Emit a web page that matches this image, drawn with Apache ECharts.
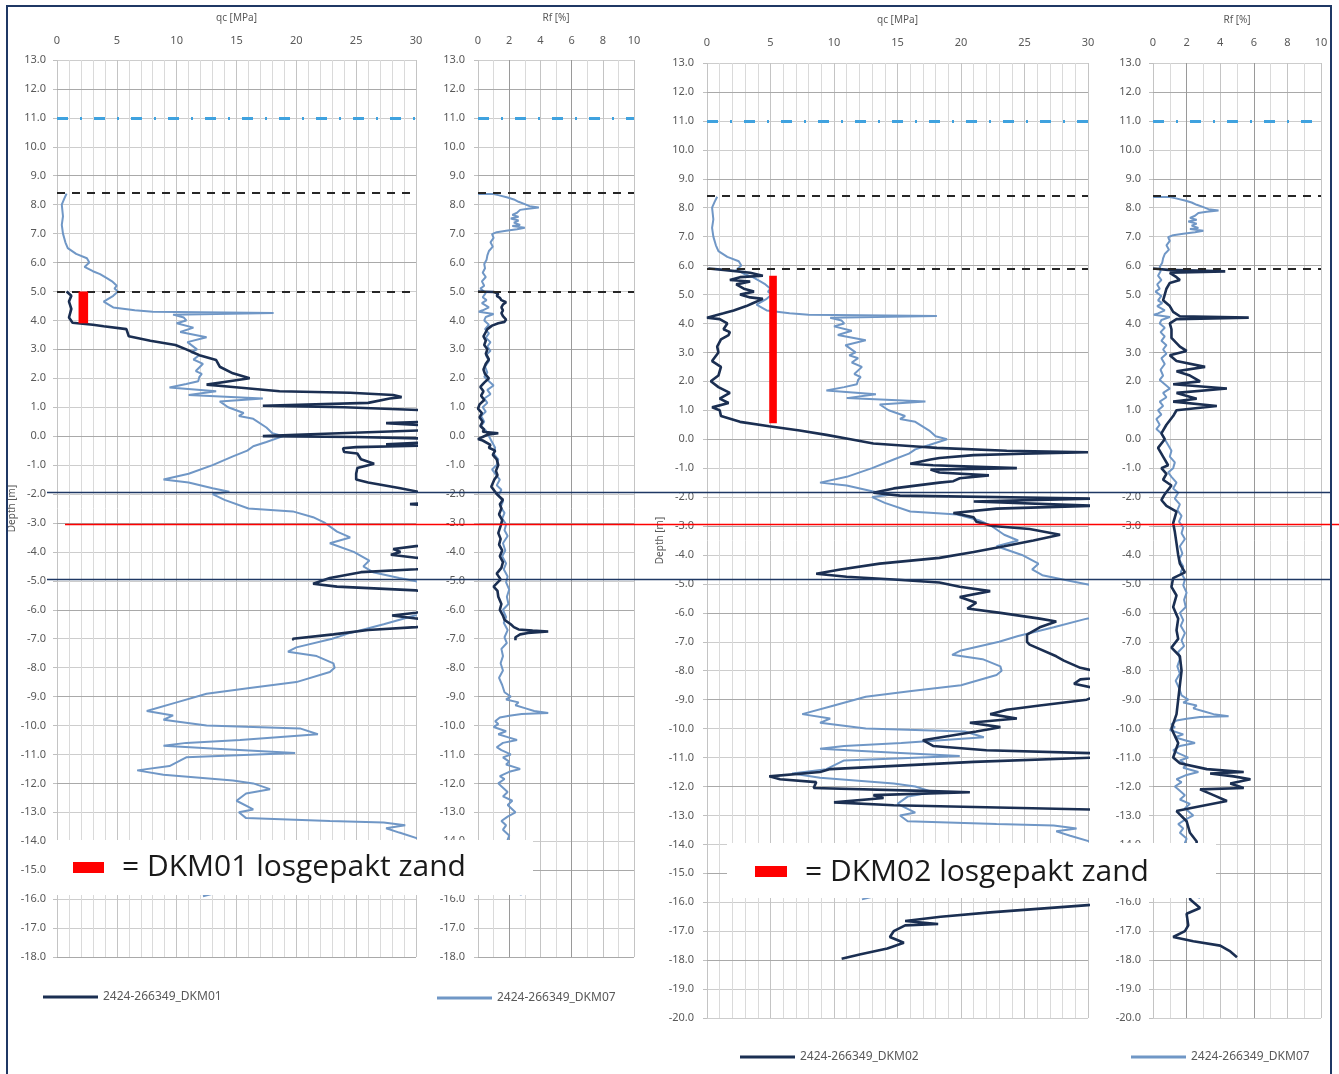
<!DOCTYPE html>
<html><head><meta charset="utf-8">
<script src="https://cdn.jsdelivr.net/npm/echarts/dist/echarts.min.js"></script>
<style>html,body{margin:0;padding:0;background:#fff}#c{width:1339px;height:1074px}</style>
</head><body><div id="c"></div>
<script>
// ---------- DATA ----------
const qcTicks = [0, 5, 10, 15, 20, 25, 30];
const rfTicks = [0, 2, 4, 6, 8, 10];
const nameDKM01 = '2424-266349_DKM01';
const nameDKM02 = '2424-266349_DKM02';
const nameDKM07 = '2424-266349_DKM07';

// [qc MPa, depth m]
const qcDKM07 = [[0.8,8.38],[0.6,8.2],[0.4,8.0],[0.5,7.6],[0.4,7.3],[0.5,7.0],[0.7,6.7],[0.9,6.5],[1.6,6.3],[2.5,6.15],[2.7,6.0],[2.3,5.85],[3.0,5.7],[3.6,5.6],[4.2,5.45],[4.6,5.35],[5.0,5.2],[4.8,5.1],[5.1,5.0],[4.7,4.85],[3.9,4.65],[4.7,4.45],[6.5,4.35],[8.0,4.3],[18.1,4.26],[9.7,4.2],[10.6,4.1],[10.8,4.0],[10.0,3.9],[11.4,3.75],[10.3,3.6],[12.5,3.42],[10.9,3.25],[11.7,3.0],[11.2,2.9],[11.9,2.8],[11.4,2.65],[12.2,2.5],[11.6,2.25],[12.1,2.15],[11.9,2.05],[11.8,1.9],[10.8,1.8],[9.4,1.68],[13.3,1.55],[11.0,1.42],[17.2,1.3],[13.6,1.2],[14.3,1.0],[15.6,0.8],[15.2,0.7],[16.4,0.6],[17.5,0.3],[18.0,0.1],[18.9,0.0],[17.5,-0.2],[16.4,-0.35],[15.9,-0.5],[14.7,-0.7],[13.0,-1.0],[11.0,-1.3],[8.9,-1.5],[11.0,-1.6],[13.0,-1.8],[14.4,-1.92],[13.0,-2.0],[14.0,-2.2],[16.0,-2.5],[19.7,-2.6],[21.4,-2.8],[22.4,-3.0],[23.4,-3.3],[24.5,-3.5],[22.8,-3.7],[24.8,-4.0],[26.1,-4.3],[25.6,-4.5],[26.4,-4.7],[28.6,-4.9],[29.8,-5.0],[32,-5.2],[35,-5.6],[33,-6.0],[29.9,-6.2],[27.3,-6.5],[24.5,-6.8],[23.0,-7.0],[20.0,-7.3],[19.3,-7.45],[21.7,-7.6],[23.1,-7.85],[23.2,-8.0],[22.8,-8.15],[20.0,-8.5],[16.1,-8.7],[12.5,-8.9],[10.0,-9.2],[7.5,-9.5],[9.7,-9.65],[8.9,-9.8],[12.5,-10.0],[20.3,-10.1],[21.8,-10.3],[15.3,-10.5],[10.8,-10.6],[8.9,-10.7],[13.3,-10.8],[19.9,-10.95],[10.8,-11.1],[9.4,-11.4],[6.7,-11.55],[8.9,-11.7],[14.7,-11.9],[16.4,-12.0],[17.8,-12.2],[15.8,-12.35],[15.0,-12.6],[16.4,-12.9],[15.2,-13.0],[15.8,-13.2],[22.8,-13.3],[27.3,-13.35],[29.1,-13.45],[27.5,-13.55],[28.6,-13.7],[30.5,-13.95],[33,-14.3],[25,-15.0],[15,-15.6],[12.2,-15.9]];

const qcDKM01 = [[0.8,5.0],[1.2,4.85],[1.0,4.65],[1.2,4.4],[1.0,4.1],[1.3,3.92],[3.0,3.85],[3.9,3.8],[5.8,3.7],[6.0,3.45],[7.8,3.3],[9.9,3.15],[10.8,3.0],[11.9,2.8],[13.3,2.63],[13.6,2.4],[14.7,2.17],[16.1,2.0],[14.4,1.9],[12.5,1.78],[14.7,1.7],[18.6,1.55],[24.5,1.5],[28.1,1.42],[28.8,1.35],[27.8,1.3],[26,1.15],[17.2,1.05],[24,1.0],[30.5,0.9],[35,0.7],[31,0.5],[27.5,0.45],[30.5,0.38],[35,0.3],[30.5,0.2],[20,0.05],[17.2,0.0],[25,-0.03],[30.5,-0.08],[35,-0.15],[30.5,-0.22],[27.5,-0.28],[30.5,-0.33],[25,-0.38],[23.9,-0.42],[24.0,-0.55],[25.1,-0.6],[25.4,-0.8],[26.5,-0.95],[25.1,-1.1],[25.0,-1.3],[25.0,-1.5],[26.0,-1.6],[28.7,-1.8],[30.5,-1.95],[35,-2.1],[31,-2.3],[29.5,-2.35],[31,-2.4],[35,-3.0],[33,-3.7],[30.0,-3.8],[28.1,-3.9],[28.7,-4.0],[27.9,-4.1],[30.0,-4.2],[35,-4.4],[30.0,-4.6],[25.4,-4.7],[22.8,-4.9],[21.4,-5.1],[23.4,-5.2],[30.0,-5.33],[35,-5.7],[30.0,-6.1],[28.0,-6.2],[30.0,-6.3],[35,-6.45],[30.0,-6.6],[26.0,-6.7],[23.1,-6.85],[19.7,-7.0],[19.8,-7.05]];

const qcDKM02 = [[0.1,5.9],[1.3,5.85],[3.4,5.75],[4.4,5.65],[2.6,5.6],[1.8,5.5],[3.4,5.45],[2.3,5.35],[2.9,5.2],[3.7,5.1],[2.6,5.0],[3.4,4.9],[4.4,4.85],[3.6,4.7],[3.1,4.6],[2.1,4.45],[1.3,4.35],[0.0,4.2],[1.0,4.15],[1.6,4.0],[1.3,3.8],[1.8,3.7],[1.7,3.6],[1.1,3.45],[0.8,3.2],[0.9,3.0],[0.4,2.7],[1.1,2.5],[0.9,2.2],[0.3,2.0],[0.9,1.8],[1.8,1.6],[1.0,1.4],[1.7,1.25],[0.4,1.1],[1.0,1.0],[1.1,0.8],[2.6,0.6],[4.9,0.45],[7.3,0.3],[9.4,0.15],[11.3,0.0],[13.1,-0.15],[16.5,-0.25],[18.1,-0.3],[23.6,-0.4],[30.0,-0.45],[24.9,-0.5],[21.0,-0.55],[18.3,-0.65],[17.6,-0.7],[16.0,-0.85],[17.8,-0.9],[24.4,-1.0],[17.6,-1.05],[18.3,-1.15],[22.2,-1.25],[19.9,-1.35],[19.4,-1.45],[18.3,-1.5],[14.7,-1.7],[13.1,-1.85],[15.2,-1.95],[30.5,-2.05],[21.0,-2.15],[30.5,-2.3],[22.8,-2.4],[19.4,-2.55],[21.0,-2.7],[21.2,-2.85],[22.5,-3.0],[25.4,-3.1],[27.8,-3.3],[25.7,-3.5],[23.4,-3.7],[21.0,-3.9],[18.3,-4.1],[13.6,-4.3],[10.5,-4.5],[8.6,-4.65],[11.0,-4.75],[14.7,-4.85],[18.3,-4.95],[19.9,-5.1],[22.3,-5.25],[19.9,-5.45],[21.2,-5.65],[20.5,-5.85],[23.1,-6.0],[26.2,-6.2],[27.5,-6.3],[26.2,-6.5],[25.2,-6.75],[25.2,-7.0],[25.4,-7.1],[27.5,-7.5],[28.1,-7.65],[29.4,-7.9],[30.5,-8.0],[33,-8.15],[29.4,-8.3],[28.9,-8.45],[30.5,-8.6],[31,-8.8],[29.9,-9.0],[26.2,-9.2],[23.6,-9.35],[22.3,-9.5],[24.4,-9.65],[20.7,-9.8],[23.1,-9.95],[21.2,-10.1],[17.0,-10.4],[17.8,-10.6],[22.0,-10.75],[30.5,-10.85],[35,-10.95],[30.5,-11.0],[21.0,-11.15],[9.7,-11.4],[8.9,-11.5],[4.9,-11.65],[5.75,-11.75],[8.6,-11.85],[8.4,-12.05],[17.0,-12.15],[20.7,-12.2],[13.1,-12.3],[13.9,-12.4],[10.0,-12.55],[14.7,-12.65],[30.5,-12.8],[35,-13.5],[40,-15],[35,-16.0],[30.0,-16.1],[22.3,-16.35],[18.4,-16.5],[15.6,-16.65],[18.2,-16.75],[15.6,-16.8],[14.7,-17.0],[14.4,-17.2],[15.5,-17.4],[14.2,-17.6],[12.1,-17.8],[10.6,-17.95]];

// [Rf %, depth m]
const rfDKM07 = [[0.0,8.37],[1.0,8.37],[1.3,8.33],[1.9,8.25],[2.3,8.18],[2.6,8.1],[3.0,8.02],[3.3,7.95],[3.9,7.9],[3.2,7.86],[2.7,7.82],[2.5,7.72],[2.2,7.65],[2.6,7.58],[2.1,7.52],[2.6,7.45],[2.3,7.38],[2.7,7.3],[2.2,7.26],[3.0,7.2],[2.5,7.15],[1.8,7.1],[1.2,7.05],[0.9,6.98],[1.0,6.85],[0.8,6.7],[0.95,6.55],[0.7,6.4],[0.6,6.25],[0.55,6.1],[0.4,5.95],[0.45,5.8],[0.3,5.65],[0.5,5.5],[0.25,5.35],[0.4,5.2],[0.15,5.1],[0.5,4.95],[0.3,4.8],[0.55,4.7],[0.25,4.6],[0.7,4.45],[0.3,4.35],[0.05,4.3],[1.0,4.22],[0.5,4.12],[0.4,4.0],[0.7,3.85],[0.45,3.7],[0.7,3.55],[0.5,3.4],[0.8,3.25],[0.6,3.1],[0.8,2.95],[0.5,2.8],[0.7,2.6],[0.45,2.4],[0.6,2.2],[0.4,2.05],[0.7,1.9],[1.0,1.75],[0.6,1.6],[0.8,1.45],[0.4,1.3],[0.6,1.15],[0.3,1.0],[0.5,0.85],[0.2,0.7],[0.4,0.5],[0.2,0.35],[0.5,0.2],[0.7,0.0],[0.9,-0.2],[1.1,-0.4],[1.0,-0.6],[1.3,-0.8],[1.2,-1.0],[0.9,-1.15],[1.1,-1.3],[1.4,-1.5],[1.2,-1.7],[1.5,-1.85],[1.3,-2.05],[1.6,-2.25],[1.45,-2.45],[1.7,-2.65],[1.55,-2.85],[1.8,-3.05],[1.7,-3.25],[1.9,-3.45],[1.6,-3.7],[1.75,-3.95],[1.55,-4.15],[1.8,-4.4],[1.65,-4.6],[1.9,-4.85],[1.8,-5.05],[2.0,-5.3],[1.85,-5.55],[1.95,-5.8],[1.6,-6.0],[1.8,-6.25],[1.65,-6.45],[1.9,-6.7],[1.7,-6.95],[1.85,-7.15],[1.5,-7.35],[1.6,-7.6],[1.45,-7.85],[1.6,-8.1],[1.35,-8.35],[1.55,-8.6],[1.7,-8.85],[2.1,-9.0],[1.8,-9.1],[2.6,-9.2],[2.4,-9.3],[3.0,-9.4],[3.6,-9.5],[4.5,-9.57],[2.8,-9.6],[2.0,-9.66],[1.4,-9.72],[1.1,-9.85],[1.3,-9.95],[1.0,-10.05],[1.8,-10.2],[1.3,-10.3],[1.9,-10.4],[2.5,-10.5],[1.6,-10.6],[1.2,-10.75],[1.5,-10.85],[2.1,-11.0],[1.6,-11.1],[2.0,-11.25],[1.8,-11.35],[2.7,-11.5],[2.0,-11.6],[1.4,-11.75],[1.7,-11.85],[1.3,-12.0],[1.6,-12.15],[1.9,-12.3],[1.6,-12.45],[2.2,-12.6],[1.9,-12.75],[2.4,-13.0],[1.9,-13.15],[1.5,-13.3],[1.8,-13.45],[1.6,-13.6],[2.0,-13.8],[1.9,-13.95],[2.2,-14.5],[2.4,-15.2],[2.3,-15.75],[2.8,-15.85]];

const rfDKM01 = [[0.0,5.0],[1.0,4.98],[1.3,4.93],[1.2,4.85],[1.4,4.78],[1.5,4.7],[1.8,4.63],[1.6,4.55],[1.5,4.45],[1.6,4.35],[1.5,4.25],[1.6,4.15],[1.8,4.03],[1.7,3.95],[1.3,3.9],[0.9,3.82],[0.6,3.7],[0.5,3.6],[0.35,3.45],[0.5,3.3],[0.4,3.15],[0.6,3.0],[0.5,2.85],[0.7,2.65],[0.5,2.5],[0.35,2.3],[0.45,2.15],[0.7,2.0],[0.4,1.85],[0.15,1.7],[0.35,1.55],[0.2,1.4],[0.4,1.25],[0.1,1.1],[0.0,0.95],[0.25,0.8],[0.1,0.65],[0.3,0.5],[0.15,0.35],[0.4,0.22],[0.3,0.15],[1.3,0.1],[0.6,0.05],[0.0,-0.1],[0.3,-0.15],[0.8,-0.3],[0.7,-0.4],[1.1,-0.5],[0.95,-0.65],[1.2,-0.8],[1.3,-1.0],[1.15,-1.2],[1.25,-1.35],[1.05,-1.5],[0.85,-1.75],[1.0,-1.85],[1.2,-2.0],[1.4,-2.1],[1.6,-2.2],[1.4,-2.35],[1.5,-2.5],[1.35,-2.7],[1.55,-2.9],[1.45,-3.1],[1.3,-3.35],[1.45,-3.55],[1.35,-3.75],[1.55,-3.95],[1.4,-4.15],[1.6,-4.35],[1.5,-4.55],[1.2,-4.75],[1.45,-4.95],[1.0,-5.2],[1.25,-5.35],[1.3,-5.55],[1.5,-5.8],[1.4,-6.0],[1.6,-6.2],[1.7,-6.35],[2.1,-6.5],[2.3,-6.6],[2.6,-6.68],[3.5,-6.72],[4.5,-6.75],[3.2,-6.8],[2.7,-6.85],[2.4,-6.95],[2.4,-7.05]];

const rfDKM02 = [[0.0,5.9],[0.9,5.85],[4.3,5.8],[1.0,5.75],[1.4,5.6],[1.6,5.5],[1.0,5.4],[0.8,5.2],[0.7,5.0],[0.6,4.8],[1.0,4.6],[1.2,4.4],[1.6,4.25],[5.7,4.2],[1.4,4.15],[1.0,4.0],[1.1,3.8],[1.1,3.5],[1.6,3.2],[2.0,3.05],[1.0,2.9],[1.4,2.7],[3.1,2.5],[1.4,2.35],[2.2,2.2],[2.8,2.0],[1.2,1.9],[4.4,1.75],[1.4,1.6],[2.6,1.4],[1.2,1.3],[3.8,1.15],[1.4,1.0],[1.2,0.8],[0.8,0.5],[0.5,0.2],[0.7,0.0],[0.3,-0.3],[0.6,-0.6],[0.9,-0.9],[0.5,-1.0],[0.8,-1.2],[0.6,-1.4],[1.1,-1.6],[0.7,-1.9],[0.5,-2.1],[0.8,-2.3],[1.4,-2.5],[1.2,-2.9],[1.3,-3.2],[1.4,-3.6],[1.5,-4.0],[1.6,-4.3],[1.9,-4.6],[1.2,-4.8],[1.1,-5.1],[1.4,-5.4],[1.2,-5.8],[1.5,-6.2],[1.4,-6.6],[1.5,-6.9],[1.1,-7.2],[1.6,-7.5],[1.7,-8.0],[1.6,-8.5],[1.5,-9.0],[1.4,-9.5],[1.1,-10.0],[1.5,-10.5],[1.2,-11.0],[1.6,-11.2],[3.2,-11.4],[5.4,-11.5],[3.4,-11.55],[4.8,-11.65],[5.8,-11.75],[4.6,-11.9],[5.4,-12.05],[2.8,-12.1],[3.6,-12.3],[4.4,-12.5],[2.2,-12.75],[1.4,-12.85],[2.0,-13.2],[2.2,-13.6],[2.6,-13.9],[2.5,-15.0],[2.2,-15.9],[2.8,-16.2],[2.0,-16.4],[2.1,-16.8],[1.9,-17.0],[1.2,-17.2],[2.4,-17.35],[4.0,-17.5],[4.6,-17.7],[5.0,-17.9]];

// reference levels (depth, m)
const waterLevel = [11.0];
const layersDKM01 = [8.4, 5.0];
const layersDKM02 = [8.4, 5.9];
const rfDarkGrid = [2, 6];
const depthMajorGrid = [12, 9, 6, 3, 0, -3, -6, -9, -12, -15, -18];
// loose sand zones: [qcFrom, qcTo, depthTop, depthBottom]
const looseDKM01 = [1.8, 2.6, 5.0, 3.9];
const looseDKM02 = [4.9, 5.5, 5.65, 0.55];
// overlay horizontal lines (depth, m) across the figure
const overlayNavy = [-1.93, -4.93];
const overlayRed = [-3.03];
const annotations = ['= DKM01 losgepakt zand', '= DKM02 losgepakt zand'];

// ---------- CHART ----------
const FONT = 'Noto Sans';
const gray = '#595959';
const darkCol = '#1b2f52';
const lightCol = '#7097c6';

function xAx(gi, max, interval, name, gap, margin, minorN) {
  return {
    type: 'value', gridIndex: gi, position: 'top', min: 0, max: max, interval: interval,
    name: name, nameLocation: 'middle', nameGap: gap,
    nameTextStyle: {fontFamily: FONT, fontSize: 10, color: gray},
    axisLine: {show: false},
    axisTick: {show: true, length: 4, lineStyle: {color: '#bfbfbf'}},
    axisLabel: {fontFamily: FONT, fontSize: 11, color: gray, margin: margin, showMinLabel: true, showMaxLabel: true},
    splitLine: {show: true, lineStyle: {color: '#c4c4c4', width: 1}},
    minorTick: {show: false, splitNumber: minorN},
    minorSplitLine: {show: true, lineStyle: {color: '#dadada', width: 1}}
  };
}
function yAx(gi, min, name, gap, margin) {
  return {
    type: 'value', gridIndex: gi, min: min, max: 13, interval: 1,
    name: name, nameLocation: 'middle', nameGap: gap, nameRotate: 90,
    nameTextStyle: {fontFamily: FONT, fontSize: 10, color: gray},
    axisLine: {show: false},
    axisTick: {show: true, length: 4, lineStyle: {color: '#bfbfbf'}},
    axisLabel: {fontFamily: FONT, fontSize: 11, color: gray, margin: margin, showMinLabel: true, showMaxLabel: true,
      formatter: v => v.toFixed(1)},
    splitLine: {show: true, lineStyle: {color: '#cdcdcd', width: 1}}
  };
}
function levelLines(layers) {
  const d = [];
  waterLevel.forEach(v => d.push({yAxis: v, lineStyle: {color: '#3fa2df', width: 3, type: [11, 12, 2, 12]}}));
  layers.forEach(v => d.push({yAxis: v, lineStyle: {color: '#262626', width: 2.2, type: [8, 7]}}));
  return {silent: true, symbol: 'none', label: {show: false}, emphasis: {disabled: true}, data: d};
}
function gridLines(minDepth, extraX) {
  const d = [];
  depthMajorGrid.filter(v => v >= minDepth).forEach(v => d.push({yAxis: v, lineStyle: {color: '#a9a9a9', width: 1, type: 'solid'}}));
  (extraX || []).forEach(v => d.push({xAxis: v, lineStyle: {color: '#9a9a9a', width: 1, type: 'solid'}}));
  return {silent: true, z: 1, symbol: 'none', label: {show: false}, emphasis: {disabled: true}, data: d};
}
function loose(z) {
  return {silent: true, z: 10, itemStyle: {color: '#ff0000', opacity: 1}, label: {show: false},
    data: [[{xAxis: z[0], yAxis: z[2]}, {xAxis: z[1], yAxis: z[3]}]]};
}
function line(name, gi, data, col, w, extra) {
  return Object.assign({
    type: 'line', name: name, xAxisIndex: gi, yAxisIndex: gi, data: data,
    showSymbol: false, symbol: 'none', clip: true, animation: false,
    lineStyle: {color: col, width: w}, itemStyle: {color: col}
  }, extra || {});
}
function legendAt(name, left, top) {
  return {data: [name], left: left, top: top, padding: 0, icon: 'rect', itemWidth: 55, itemHeight: 3,
    textStyle: {fontFamily: FONT, fontSize: 12, color: gray}, selectedMode: false};
}

const option = {
  animation: false,
  backgroundColor: '#fff',
  grid: [
    {left: 57, top: 60, width: 359, height: 897, outerBoundsMode: 'none'},
    {left: 478, top: 60, width: 156, height: 897, outerBoundsMode: 'none'},
    {left: 707, top: 63, width: 381, height: 955, outerBoundsMode: 'none'},
    {left: 1153, top: 63, width: 168, height: 955, outerBoundsMode: 'none'}
  ],
  xAxis: [
    xAx(0, qcTicks[qcTicks.length - 1], qcTicks[1] - qcTicks[0], 'qc [MPa]', 37, 14, 5),
    xAx(1, rfTicks[rfTicks.length - 1], rfTicks[1] - rfTicks[0], 'Rf [%]', 37, 14, 2),
    xAx(2, qcTicks[qcTicks.length - 1], qcTicks[1] - qcTicks[0], 'qc [MPa]', 38, 15, 5),
    xAx(3, rfTicks[rfTicks.length - 1], rfTicks[1] - rfTicks[0], 'Rf [%]', 38, 15, 2)
  ],
  yAxis: [
    yAx(0, -18, 'Depth [m]', 40, 11),
    yAx(1, -18, '', 0, 13),
    yAx(2, -20, 'Depth [m]', 42, 13),
    yAx(3, -20, '', 0, 12)
  ],
  legend: [
    legendAt(nameDKM01, 43, 991),
    legendAt(nameDKM07, 437, 992),
    legendAt(nameDKM02, 740, 1051),
    legendAt(nameDKM07, 1131, 1051)
  ],
  series: [
    line(nameDKM07, 0, qcDKM07, lightCol, 2, {markLine: levelLines(layersDKM01)}),
    line(nameDKM01, 0, qcDKM01, darkCol, 2.6, {markArea: loose(looseDKM01), markLine: gridLines(-18)}),
    line(nameDKM07, 1, rfDKM07, lightCol, 2, {markLine: levelLines(layersDKM01)}),
    line(nameDKM01, 1, rfDKM01, darkCol, 2.6, {markLine: gridLines(-18, rfDarkGrid)}),
    line(nameDKM07, 2, qcDKM07, lightCol, 2, {markLine: levelLines(layersDKM02)}),
    line(nameDKM02, 2, qcDKM02, darkCol, 2.6, {markArea: loose(looseDKM02), markLine: gridLines(-20)}),
    line(nameDKM07, 3, rfDKM07, lightCol, 2, {markLine: levelLines(layersDKM02)}),
    line(nameDKM02, 3, rfDKM02, darkCol, 2.6, {markLine: gridLines(-20, rfDarkGrid)})
  ]
};

const chart = echarts.init(document.getElementById('c'), null, {renderer: 'canvas'});
chart.setOption(option);

const yAt = d => chart.convertToPixel({yAxisIndex: 0}, d);
const g = [];
// white annotation boxes
g.push({type: 'rect', z: 100, shape: {x: 50, y: 840, width: 483, height: 55}, style: {fill: '#fff'}});
g.push({type: 'rect', z: 100, shape: {x: 727, y: 843, width: 489, height: 55}, style: {fill: '#fff'}});
g.push({type: 'rect', z: 101, shape: {x: 73, y: 862, width: 31, height: 11}, style: {fill: '#ff0000'}});
g.push({type: 'rect', z: 101, shape: {x: 755, y: 866, width: 32, height: 11}, style: {fill: '#ff0000'}});
g.push({type: 'text', z: 101, style: {text: annotations[0], x: 122, y: 867, fontFamily: 'Open Sans', fontSize: 30, fill: '#1a1a1a', verticalAlign: 'middle'}});
g.push({type: 'text', z: 101, style: {text: annotations[1], x: 805, y: 872, fontFamily: 'Open Sans', fontSize: 30, fill: '#1a1a1a', verticalAlign: 'middle'}});
// overlay lines across the figure
overlayNavy.forEach(d => { const y = Math.round(yAt(d)) + 0.5; g.push({type: 'line', z: 110, shape: {x1: 47, y1: y, x2: 1332, y2: y}, style: {stroke: '#1f3864', lineWidth: 1.5}}); });
overlayRed.forEach(d => { const y = Math.round(yAt(d)) + 0.5; g.push({type: 'line', z: 110, shape: {x1: 65, y1: y, x2: 1339, y2: y}, style: {stroke: '#ff0000', lineWidth: 1.5}}); });
// outer frame
g.push({type: 'rect', z: 120, shape: {x: 7, y: 6, width: 1324, height: 1070}, style: {fill: 'none', stroke: '#1f3864', lineWidth: 2}});
chart.setOption({graphic: g});
</script></body></html>
